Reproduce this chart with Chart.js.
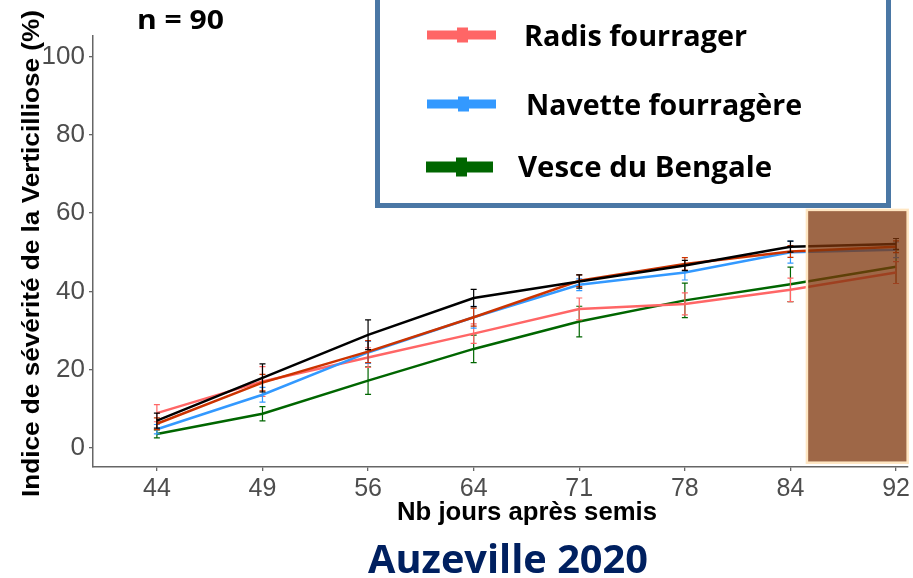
<!DOCTYPE html>
<html>
<head>
<meta charset="utf-8">
<script src="https://cdn.jsdelivr.net/npm/chart.js@4.4.1/dist/chart.umd.min.js"></script>
<style>
  html,body{margin:0;padding:0;background:#fff;}
  #wrap{position:relative;width:913px;height:578px;}
  canvas{display:block;}
</style>
</head>
<body>
<div id="wrap"><canvas id="c" width="913" height="578"></canvas></div>
<script>
// ---- data ----
const days = ["44", "49", "56", "64", "71", "78", "84", "92"];
const yTickValues = [0, 20, 40, 60, 80, 100];

const blackValues   = [7.0, 17.9, 28.9, 38.3, 42.5, 46.6, 51.4, 52.1];
const blackErrors   = [1.9, 3.6, 3.8, 2.2, 1.7, 1.3, 1.4, 1.4];
const darkRedValues = [6.2, 16.7, 24.6, 33.4, 42.7, 47.0, 50.2, 51.4];
const darkRedErrors = [1.5, 2.1, 2.8, 2.3, 1.5, 1.6, 1.5, 1.5];
const radisValues   = [8.9, 17.0, 23.1, 29.2, 35.5, 36.8, 40.4, 44.8];
const radisErrors   = [2.2, 3.8, 2.5, 2.5, 2.8, 2.8, 3.0, 2.8];
const navetteValues = [4.8, 13.6, 24.4, 33.4, 41.7, 44.8, 50.0, 50.6];
const navetteErrors = [1.2, 1.9, 2.8, 2.8, 1.5, 1.9, 2.8, 2.0];
const vesceValues   = [3.6, 8.75, 17.2, 25.3, 32.3, 37.7, 41.8, 46.3];
const vesceErrors   = [1.0, 1.8, 3.5, 3.5, 3.9, 4.4, 4.4, 4.3];

const legendLabels = ["Radis fourrager", "Navette fourragère", "Vesce du Bengale"];
const sampleText = "n = 90";
const yTitle = "Indice de sévérité de la Verticilliose (%)";
const xTitle = "Nb jours après semis";
const bottomTitle = "Auzeville 2020";

// ---- styling / geometry (not data) ----
const C_BLACK = "#000000", C_DRED = "#cc3300", C_PINK = "#ff6666", C_BLUE = "#3399ff", C_GREEN = "#006600";
const X_MIN = -0.605, X_MAX = 7.11, Y_MIN = -4.85, Y_MAX = 105.2;
const SHADE = {x0: 6.156, x1: 7.11, y0: -3.75, y1: 60.8};

function pts(vals){ return vals.map((v,i)=>({x:i, y:v})); }
function ds(label, vals, errs, color, order){
  return {label, data: pts(vals), errors: errs, borderColor: color, backgroundColor: color,
          borderWidth: 2.5, pointRadius: 0, tension: 0, order, fill: false};
}

const datasets = [
  ds("Témoin", blackValues, blackErrors, C_BLACK, 0),
  ds("Série 2", darkRedValues, darkRedErrors, C_DRED, 1),
  ds(legendLabels[1], navetteValues, navetteErrors, C_BLUE, 2),
  ds(legendLabels[0], radisValues, radisErrors, C_PINK, 3),
  ds(legendLabels[2], vesceValues, vesceErrors, C_GREEN, 4)
];

function fitText(ctx, text, x, y, w, font, color, rot){
  ctx.save();
  ctx.font = font;
  const m = ctx.measureText(text).width;
  ctx.translate(x, y);
  if (rot) ctx.rotate(rot);
  ctx.scale(w / m, 1);
  ctx.fillStyle = color;
  ctx.textAlign = "left";
  ctx.textBaseline = "alphabetic";
  ctx.fillText(text, 0, 0);
  ctx.restore();
}

const errorBars = {
  id: "errorBars",
  afterDatasetDraw(chart, args){
    const d = chart.data.datasets[args.index];
    if (!d.errors) return;
    const xs = chart.scales.x, ys = chart.scales.y, ctx = chart.ctx;
    ctx.save();
    ctx.strokeStyle = d.borderColor;
    ctx.lineWidth = 1.2;
    d.data.forEach((p,i)=>{
      const px = xs.getPixelForValue(p.x);
      const top = ys.getPixelForValue(p.y + d.errors[i]);
      const bot = ys.getPixelForValue(p.y - d.errors[i]);
      ctx.beginPath();
      ctx.moveTo(px, top); ctx.lineTo(px, bot);
      ctx.moveTo(px-3, top); ctx.lineTo(px+3, top);
      ctx.moveTo(px-3, bot); ctx.lineTo(px+3, bot);
      ctx.stroke();
    });
    ctx.restore();
  }
};

const shade = {
  id: "shade",
  afterDatasetsDraw(chart){
    const xs = chart.scales.x, ys = chart.scales.y, ctx = chart.ctx;
    const l = xs.getPixelForValue(SHADE.x0), r = xs.getPixelForValue(SHADE.x1);
    const t = ys.getPixelForValue(SHADE.y1), b = ys.getPixelForValue(SHADE.y0);
    ctx.save();
    ctx.fillStyle = "rgba(125,52,10,0.75)";
    ctx.fillRect(l, t, r-l, b-t);
    ctx.strokeStyle = "#ffe6c2";
    ctx.lineWidth = 2.5;
    ctx.strokeRect(l, t, r-l, b-t);
    ctx.restore();
  }
};

const decorations = {
  id: "decorations",
  afterDraw(chart){
    const ctx = chart.ctx;
    // legend box
    ctx.save();
    ctx.strokeStyle = "#4a77a5";
    ctx.lineWidth = 5;
    ctx.strokeRect(377.5, -10, 511, 215.5);
    ctx.restore();
    const entries = [
      {label: legendLabels[0], color: C_PINK, ly: 35, x0: 427, x1: 496, th: 9, mx: 457, mw: 11, mh: 15, tx: 524, tw: 223, base: 46},
      {label: legendLabels[1], color: C_BLUE, ly: 104, x0: 427, x1: 496, th: 9, mx: 458, mw: 11, mh: 15, tx: 526, tw: 276, base: 115},
      {label: legendLabels[2], color: C_GREEN, ly: 167, x0: 426, x1: 493, th: 11, mx: 456, mw: 11, mh: 19, tx: 518, tw: 254, base: 177}
    ];
    entries.forEach(e=>{
      ctx.fillStyle = e.color;
      ctx.fillRect(e.x0, e.ly - e.th/2, e.x1 - e.x0, e.th);
      ctx.fillRect(e.mx, e.ly - e.mh/2, e.mw, e.mh);
      fitText(ctx, e.label, e.tx, e.base, e.tw, "bold 28px 'Open Sans'", "#000");
    });
    fitText(ctx, sampleText, 137, 29, 87, "bold 27px 'Open Sans'", "#000");
    fitText(ctx, yTitle, 39, 497, 487, "bold 24.5px 'Liberation Sans'", "#000", -Math.PI/2);
    fitText(ctx, xTitle, 397, 520, 260, "bold 25px 'Liberation Sans'", "#000");
    fitText(ctx, bottomTitle, 368, 573, 280, "bold 39px 'Open Sans'", "#002060");
  }
};

new Chart(document.getElementById("c"), {
  type: "line",
  data: {datasets},
  plugins: [errorBars, shade, decorations],
  options: {
    responsive: false,
    animation: false,
    devicePixelRatio: 1,
    layout: {padding: {left: 0, top: 36, right: 4, bottom: 0}},
    plugins: {legend: {display: false}, tooltip: {enabled: false}, title: {display: false}},
    scales: {
      x: {
        type: "linear", min: X_MIN, max: X_MAX,
        afterBuildTicks(s){ s.ticks = days.map((_,i)=>({value:i})); },
        afterFit(s){ s.height = 111; },
        grid: {drawOnChartArea: false, drawTicks: true, tickLength: 4, color: "#666", lineWidth: 1.3},
        border: {display: true, color: "#666", width: 1.5},
        ticks: {
          autoSkip: false, maxRotation: 0, padding: 3,
          color: "#4d4d4d", font: {family: "'Liberation Sans'", size: 25},
          callback: v => days[v]
        }
      },
      y: {
        type: "linear", min: Y_MIN, max: Y_MAX,
        afterBuildTicks(s){ s.ticks = yTickValues.map(v=>({value:v})); },
        afterFit(s){ s.width = 93; },
        grid: {drawOnChartArea: false, drawTicks: true, tickLength: 4, color: "#666", lineWidth: 1.3},
        border: {display: true, color: "#666", width: 1.5},
        ticks: {
          padding: 4, color: "#4d4d4d", font: {family: "'Liberation Sans'", size: 26},
          callback: v => String(v)
        }
      }
    }
  }
});
</script>
</body>
</html>
